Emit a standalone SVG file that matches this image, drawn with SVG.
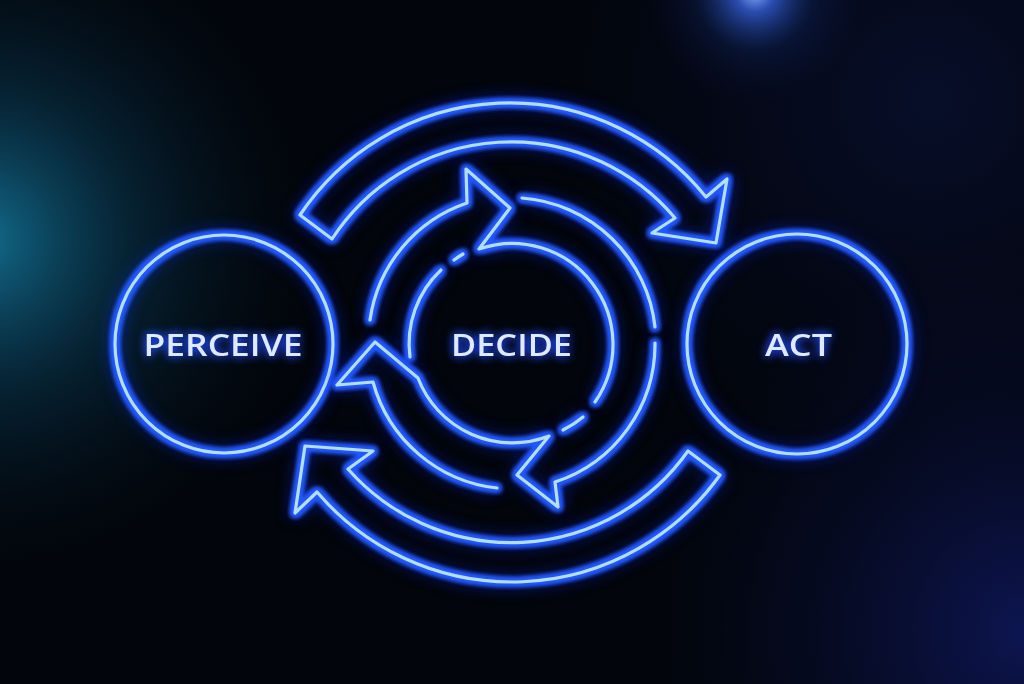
<svg xmlns="http://www.w3.org/2000/svg" width="1024" height="684" viewBox="0 0 1024 684">
  <defs>
    <radialGradient id="bgLeft" cx="-20" cy="240" r="340" gradientUnits="userSpaceOnUse">
      <stop offset="0" stop-color="#1580a6" stop-opacity="0.85"/>
      <stop offset="0.45" stop-color="#0b4460" stop-opacity="0.45"/>
      <stop offset="1" stop-color="#041420" stop-opacity="0"/>
    </radialGradient>
    <radialGradient id="bgTop" cx="755" cy="-8" r="110" gradientUnits="userSpaceOnUse">
      <stop offset="0" stop-color="#8fb4ff" stop-opacity="1"/>
      <stop offset="0.18" stop-color="#3a6af0" stop-opacity="0.7"/>
      <stop offset="0.55" stop-color="#14307a" stop-opacity="0.25"/>
      <stop offset="1" stop-color="#0a1850" stop-opacity="0"/>
    </radialGradient>
    <radialGradient id="bgBR" cx="1024" cy="630" r="380" gradientUnits="userSpaceOnUse">
      <stop offset="0" stop-color="#16238a" stop-opacity="0.55"/>
      <stop offset="1" stop-color="#0a1040" stop-opacity="0"/>
    </radialGradient>
    <radialGradient id="bgTR" cx="930" cy="100" r="380" gradientUnits="userSpaceOnUse">
      <stop offset="0" stop-color="#0e1c55" stop-opacity="0.4"/>
      <stop offset="1" stop-color="#0a1040" stop-opacity="0"/>
    </radialGradient>
    <filter id="neon" filterUnits="userSpaceOnUse" x="0" y="0" width="1024" height="684" color-interpolation-filters="sRGB">
      <feMorphology in="SourceAlpha" operator="dilate" radius="1.6" result="d"/>
      <feGaussianBlur in="d" stdDeviation="2.4" result="b1"/>
      <feFlood flood-color="#2358ff" result="c1"/>
      <feComposite in="c1" in2="b1" operator="in" result="g1"/>
      <feGaussianBlur in="SourceAlpha" stdDeviation="9" result="b2"/>
      <feFlood flood-color="#1236ff" flood-opacity="0.8" result="c2"/>
      <feComposite in="c2" in2="b2" operator="in" result="g2"/>
      <feMerge>
        <feMergeNode in="g2"/>
        <feMergeNode in="g2"/>
        <feMergeNode in="g1"/>
        <feMergeNode in="g1"/>
        <feMergeNode in="g1"/>
        <feMergeNode in="SourceGraphic"/>
      </feMerge>
    </filter>
    <filter id="textGlow" filterUnits="userSpaceOnUse" x="0" y="0" width="1024" height="684" color-interpolation-filters="sRGB">
      <feGaussianBlur in="SourceAlpha" stdDeviation="5" result="b"/>
      <feFlood flood-color="#1f4cff" flood-opacity="0.9"/>
      <feComposite in2="b" operator="in" result="g"/>
      <feMerge>
        <feMergeNode in="g"/>
        <feMergeNode in="g"/>
        <feMergeNode in="SourceGraphic"/>
      </feMerge>
    </filter>
  </defs>
  <style>
    .neon { fill: none; stroke: #b3dfff; stroke-width: 3.2; stroke-linejoin: round; stroke-linecap: round; filter: url(#neon); }
    .label { font-family: "Open Sans", "Liberation Sans", sans-serif; font-weight: 600; font-size: 31.5px; fill: #dfeaff; text-anchor: middle; filter: url(#textGlow); }
  </style>

  <!-- background -->
  <rect x="0" y="0" width="1024" height="684" fill="#02050b"/>
  <rect x="0" y="0" width="1024" height="684" fill="url(#bgLeft)"/>
  <rect x="0" y="0" width="1024" height="684" fill="url(#bgTR)"/>
  <rect x="0" y="0" width="1024" height="684" fill="url(#bgBR)"/>
  <rect x="0" y="0" width="1024" height="684" fill="url(#bgTop)"/>

  <!-- connectors -->
  <g id="connectors">
    <path class="neon" d="M 300,215 A 252,252 0 0 1 706,197 L 727,179 L 716,243 L 652,233 L 675,218 A 214,214 0 0 0 332,239 Z"/>
    <path class="neon" d="M 720,475 A 256,256 0 0 1 317,492 L 295,513 L 305,446 L 373,451 L 348,469 A 217,217 0 0 0 688,451 Z"/>
  </g>

  <!-- nodes -->
  <g id="perceive">
    <circle class="neon" cx="224" cy="344" r="109"/>
    <text class="label" x="223" y="356" textLength="159" lengthAdjust="spacingAndGlyphs">PERCEIVE</text>
  </g>

  <g id="decide">
    <path class="neon" d="M 370,320 A 145,145 0 0 1 467,203 L 466,169 L 510,208 L 479,249 A 101,101 0 0 1 595,402"/>
    <path class="neon" d="M 522,198 A 145,145 0 0 1 655,327"/>
    <path class="neon" d="M 655,343 A 145,145 0 0 1 555,482 L 558,507 L 517,475 L 549,436 A 101,101 0 0 1 418,378 L 375,342 L 337,385 L 373,382 A 145,145 0 0 0 497,488"/>
    <path class="neon" d="M 410,357 A 101,101 0 0 1 441,270"/>
    <path class="neon" d="M 454,260 A 101,101 0 0 1 463,254"/>
    <path class="neon" d="M 583,417 A 101,101 0 0 1 563,430"/>
    <text class="label" x="511.5" y="356" textLength="121" lengthAdjust="spacingAndGlyphs">DECIDE</text>
  </g>

  <g id="act">
    <circle class="neon" cx="797" cy="344" r="110"/>
    <text class="label" x="798.5" y="356" textLength="67" lengthAdjust="spacingAndGlyphs">ACT</text>
  </g>
</svg>
